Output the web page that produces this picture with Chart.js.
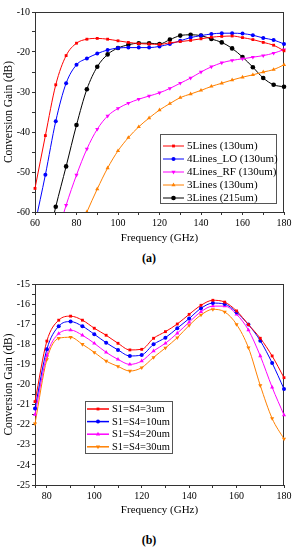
<!DOCTYPE html>
<html>
<head>
<meta charset="utf-8">
<script src="https://cdn.jsdelivr.net/npm/chart.js@4/dist/chart.umd.min.js"></script>
<style>
body { margin:0; background:#fff; width:298px; height:550px; position:relative; overflow:hidden; font-family:"Liberation Serif", serif; }
.box { position:absolute; left:0; width:298px; }
.cap { position:absolute; left:0; width:298px; text-align:center; font-weight:bold; font-size:12px; color:#000; }
</style>
</head>
<body>
<div class="box" style="top:0;height:247px"><canvas id="chartA"></canvas></div>
<div class="cap" style="top:251px">(a)</div>
<div class="box" style="top:270px;height:249px"><canvas id="chartB"></canvas></div>
<div class="cap" style="top:533px">(b)</div>
<script>
// ---- data, chart (a) ----
var freqA = [60,65,70,75,80,85,90,95,100,105,110,115,120,125,130,135,140,145,150,155,160,165,170,175,180];
var fiveLines = [-54.1,-40.9,-28.2,-20.9,-17.8,-16.8,-16.6,-16.8,-17.2,-17.6,-17.9,-18.0,-18.1,-17.7,-17.4,-17.1,-16.7,-16.3,-16.1,-16.0,-16.4,-16.9,-17.6,-18.3,-19.7];
var fourLinesLO = [-63,-50.7,-37.3,-27.8,-23.2,-21.6,-20.4,-19.5,-19.0,-18.9,-18.9,-18.9,-18.6,-18.0,-17.2,-16.4,-15.9,-15.5,-15.3,-15.3,-15.4,-15.8,-16.5,-17.0,-18.0];
var fourLinesRF = [null,null,-67,-58.3,-50.75,-44.25,-39.3,-36.0,-34.1,-32.8,-31.8,-31.0,-30.2,-29.1,-27.8,-26.5,-25.0,-23.7,-22.7,-22.1,-21.7,-21.3,-20.9,-20.3,-19.4];
var threeLines130 = [null,null,null,null,-66,-60,-54.25,-49.0,-44.7,-41.4,-38.7,-36.5,-34.5,-32.9,-31.4,-30.5,-29.6,-28.6,-27.8,-27.0,-26.3,-25.7,-25.0,-24.4,-23.2];
var threeLines215 = [null,-70,-58.7,-48.6,-38.25,-29.3,-23.7,-20.6,-19.0,-18.2,-17.8,-17.8,-18.0,-16.9,-15.9,-15.7,-15.9,-16.75,-17.6,-19.1,-21.25,-23.8,-26.5,-28.2,-28.7];
var xTicksA = [60,70,80,90,100,110,120,130,140,150,160,170,180];
var xLabelsA = [60,80,100,120,140,160,180];
var yTicksA = [-60,-55,-50,-45,-40,-35,-30,-25,-20,-15,-10];
var yLabelsA = [-60,-50,-40,-30,-20,-10];

// ---- data, chart (b) ----
var freqB = [75,80,85,90,95,100,105,110,115,120,125,130,135,140,145,150,155,160,165,170,175,180];
var s3um  = [-20.85,-17.84,-16.8,-16.6,-16.8,-17.2,-17.55,-17.95,-18.28,-18.25,-17.7,-17.37,-16.99,-16.51,-16.06,-15.81,-15.9,-16.34,-17.02,-17.7,-18.58,-19.66];
var s10um = [-21.2,-18.25,-17.1,-16.87,-17.1,-17.5,-17.92,-18.28,-18.58,-18.53,-18.0,-17.67,-17.2,-16.72,-16.21,-15.95,-16.0,-16.41,-17.02,-17.82,-18.93,-20.22];
var s20um = [-21.5,-18.55,-17.47,-17.29,-17.55,-17.95,-18.4,-18.75,-19.0,-18.83,-18.33,-17.95,-17.45,-16.9,-16.38,-16.1,-16.1,-16.51,-17.29,-18.58,-20.14,-21.52];
var s30um = [-21.95,-18.75,-17.7,-17.65,-18.0,-18.4,-18.83,-19.1,-19.33,-19.16,-18.65,-18.18,-17.67,-17.06,-16.54,-16.26,-16.39,-17.01,-18.17,-20.05,-21.69,-22.71];
var xTicksB = [75,80,90,100,110,120,130,140,150,160,170,180];
var xLabelsB = [80,100,120,140,160,180];
var yTicksB = [-25,-24.5,-24,-23.5,-23,-22.5,-22,-21.5,-21,-20.5,-20,-19.5,-19,-18.5,-18,-17.5,-17,-16.5,-16,-15.5,-15];
var yLabelsB = [-25,-24,-23,-22,-21,-20,-19,-18,-17,-16,-15];

Chart.defaults.font.family = '"Liberation Serif", "Times New Roman", serif';
Chart.defaults.color = '#000';

function pts(xs, ys) {
    var out = [];
    for (var i = 0; i < xs.length; i++) out.push({x: xs[i], y: ys[i]});
    return out;
}

function series(label, xs, ys, color, style, rot, r) {
    return {
        label: label,
        data: pts(xs, ys),
        borderColor: color,
        backgroundColor: color,
        borderWidth: 1,
        pointStyle: style,
        rotation: rot || 0,
        pointRadius: r || 2,
        pointBorderWidth: 0,
        cubicInterpolationMode: 'monotone',
        fill: false,
        clip: {left: 5, right: 5, top: 5, bottom: 0}
    };
}

// frame round the plot
var frame = {
    id: 'frame',
    beforeDatasetsDraw: function(chart) {
        var a = chart.chartArea, c = chart.ctx;
        c.save();
        c.strokeStyle = '#333';
        c.lineWidth = 1;
        c.strokeRect(a.left + 0.5, a.top + 0.5, a.right - a.left - 1, a.bottom - a.top);
        c.restore();
    }
};

// legend box placed inside the plot
var boxLegend = {
    id: 'boxLegend',
    afterDraw: function(chart, args, o) {
        var c = chart.ctx;
        c.save();
        c.fillStyle = '#fff';
        c.fillRect(o.x, o.y, o.w, o.h);
        c.strokeStyle = '#555';
        c.lineWidth = 1;
        c.strokeRect(o.x + 0.5, o.y + 0.5, o.w, o.h);
        c.font = o.font;
        c.textBaseline = 'middle';
        chart.data.datasets.forEach(function(ds, i) {
            var y = o.rowStart + i * o.rowStep;
            c.strokeStyle = ds.borderColor;
            c.lineWidth = o.lineWidth;
            c.beginPath();
            c.moveTo(o.lineX0, y);
            c.lineTo(o.lineX1, y);
            c.stroke();
            c.fillStyle = ds.backgroundColor;
            Chart.helpers.drawPoint(c, {pointStyle: ds.pointStyle, rotation: ds.rotation, radius: ds.pointRadius, borderWidth: 0}, (o.lineX0 + o.lineX1) / 2, y);
            c.fillStyle = '#000';
            c.fillText(ds.label, o.textX, y + 0.5);
        });
        c.restore();
    }
};

function axes(xMin, xMax, xTicks, xLabels, yMin, yMax, yTicks, yLabels, xHeight) {
    var gridOpts = {drawOnChartArea: false, drawTicks: true, tickLength: 3, color: '#333'};
    return {
        x: {
            type: 'linear', min: xMin, max: xMax,
            afterBuildTicks: function(s) { s.ticks = xTicks.map(function(v) { return {value: v}; }); },
            afterFit: function(s) { s.height = xHeight; },
            ticks: {
                autoSkip: false, maxRotation: 0, padding: 2, font: {size: 10},
                callback: function(v) { return xLabels.indexOf(v) >= 0 ? String(v) : ''; }
            },
            grid: gridOpts,
            border: {display: true, color: '#333', width: 1},
            title: {display: true, text: 'Frequency (GHz)', font: {size: 11}, padding: {top: 0, bottom: 2}}
        },
        y: {
            type: 'linear', min: yMin, max: yMax,
            afterBuildTicks: function(s) { s.ticks = yTicks.map(function(v) { return {value: v}; }); },
            afterFit: function(s) { s.width = 35; },
            ticks: {
                autoSkip: false, padding: 2, font: {size: 10},
                callback: function(v) { return yLabels.indexOf(v) >= 0 ? String(v) : ''; }
            },
            grid: gridOpts,
            border: {display: true, color: '#333', width: 1},
            title: {display: true, text: 'Conversion Gain (dB)', font: {size: 11.5}, padding: {top: 2, bottom: 0}}
        }
    };
}

var chartA = new Chart(document.getElementById('chartA').getContext('2d'), {
    type: 'line',
    data: {
        datasets: [
            series('5Lines (130um)', freqA, fiveLines, '#ff0000', 'rect', 0, 2),
            series('4Lines_LO (130um)', freqA, fourLinesLO, '#0000ff', 'circle', 0, 2),
            series('4Lines_RF (130um)', freqA, fourLinesRF, '#ff00ff', 'triangle', 180, 2.4),
            series('3Lines (130um)', freqA, threeLines130, '#ff8000', 'triangle', 0, 2.4),
            series('3Lines (215um)', freqA, threeLines215, '#000000', 'circle', 0, 2.3)
        ]
    },
    options: {
        responsive: true,
        maintainAspectRatio: false,
        animation: false,
        layout: {padding: {top: 12, right: 14, left: 0, bottom: 0}},
        scales: axes(60, 180, xTicksA, xLabelsA, -60, -10, yTicksA, yLabelsA, 35),
        plugins: {
            legend: {display: false},
            tooltip: {enabled: false},
            boxLegend: {x: 160, y: 134, w: 116, h: 69, rowStart: 146, rowStep: 13,
                        lineX0: 163, lineX1: 184, textX: 187, lineWidth: 1, font: '11px "Liberation Serif"'}
        }
    },
    plugins: [frame, boxLegend]
});

var chartB = new Chart(document.getElementById('chartB').getContext('2d'), {
    type: 'line',
    data: {
        datasets: [
            series('S1=S4=3um', freqB, s3um, '#ff0000', 'rect', 0, 2),
            series('S1=S4=10um', freqB, s10um, '#0000ff', 'circle', 0, 2),
            series('S1=S4=20um', freqB, s20um, '#ff00ff', 'triangle', 0, 2.4),
            series('S1=S4=30um', freqB, s30um, '#ff8000', 'triangle', 180, 2.4)
        ]
    },
    options: {
        responsive: true,
        maintainAspectRatio: false,
        animation: false,
        layout: {padding: {top: 14, right: 14, left: 0, bottom: 0}},
        scales: axes(75, 180, xTicksB, xLabelsB, -25, -15, yTicksB, yLabelsB, 34),
        plugins: {
            legend: {display: false},
            tooltip: {enabled: false},
            boxLegend: {x: 85, y: 131, w: 87, h: 52, rowStart: 139, rowStep: 12.6,
                        lineX0: 87, lineX1: 109, textX: 112, lineWidth: 1.5, font: '10.5px "Liberation Serif"'}
        }
    },
    plugins: [frame, boxLegend]
});
</script>
</body>
</html>
